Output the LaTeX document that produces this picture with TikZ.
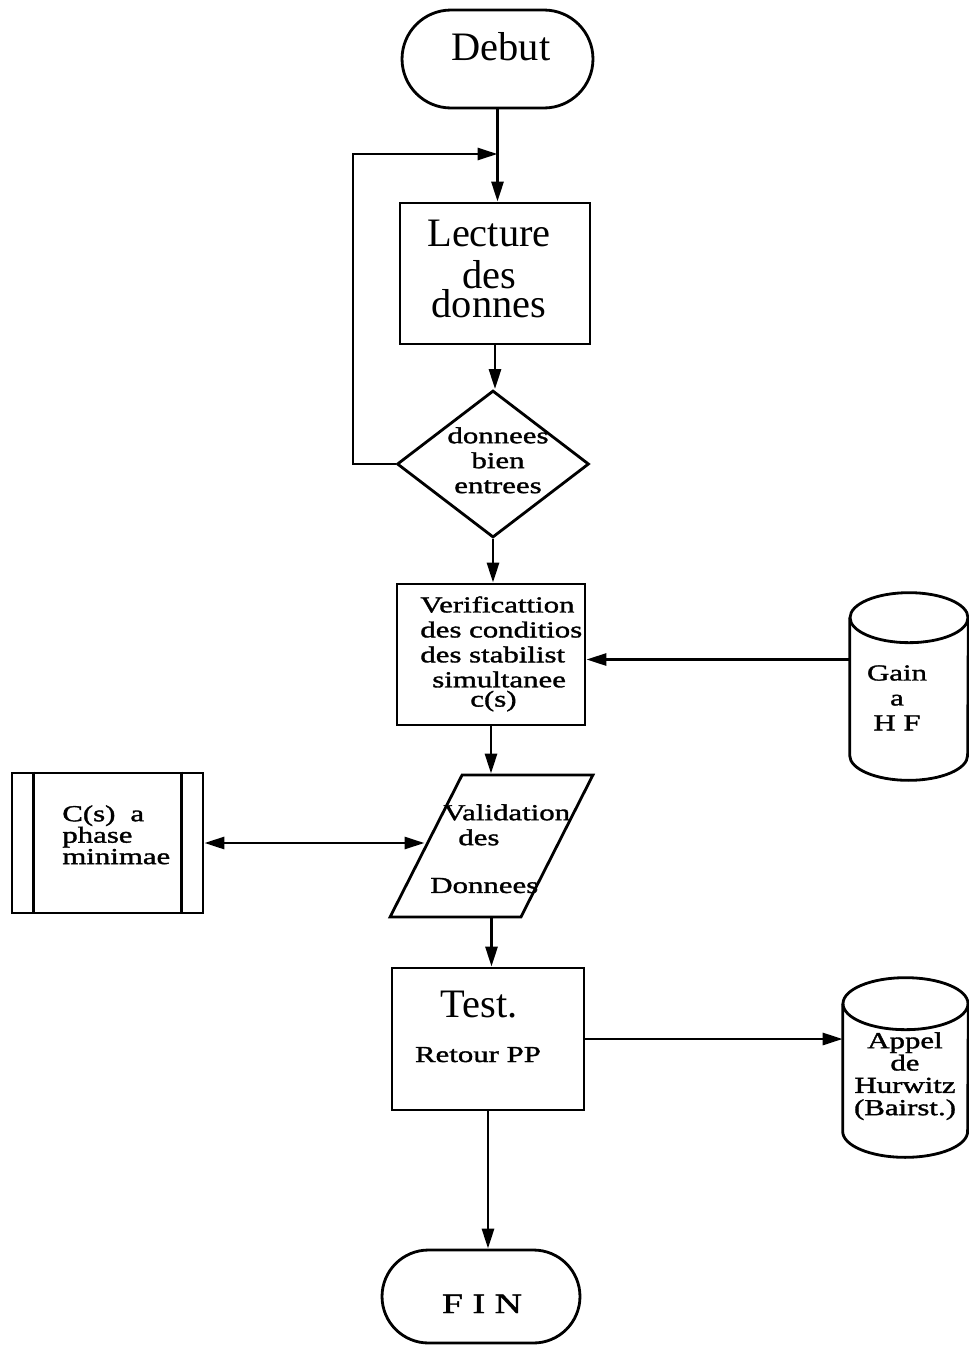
\documentclass[tikz,border=0pt]{standalone}
\usepackage{fontspec}
\setmainfont{Liberation Serif}
\newfontfamily\scanfont{Liberation Serif}[FakeStretch=1.35, FakeBold=1.5]
\usetikzlibrary{arrows.meta,shapes.geometric,shapes.misc}

\tikzset{
  ink/.style={line width=1.6pt},
  arr/.style={ink, -{Triangle[length=0.4cm,width=0.24cm]}},
  dblarr/.style={ink, {Triangle[length=0.4cm,width=0.24cm]}-{Triangle[length=0.4cm,width=0.24cm]}},
  boxnode/.style={draw, ink, rectangle, inner sep=0pt},
  term/.style={draw, ink, rounded rectangle, inner sep=0pt},
  decision/.style={draw, ink, diamond, inner sep=0pt},
  iobox/.style={draw, ink, trapezium, trapezium left angle=73, trapezium right angle=107,
                trapezium stretches=true, inner sep=2pt},
  ghost/.style={rectangle, inner sep=0pt},
  big/.style={font=\fontsize{23}{26}\selectfont, inner sep=0pt},
  small/.style={font=\scanfont\fontsize{13}{14.2}\selectfont, inner sep=0pt},
}

\begin{document}
\begin{tikzpicture}[x=0.02cm, y=-0.02cm]
  \useasboundingbox[fill=white] (0,0) rectangle (969,1346);

  % main column of the flowchart
  \node[term, minimum width=3.82cm, minimum height=1.96cm] (debut) at (497.5,59) {};
  \node[boxnode, minimum width=3.8cm, minimum height=2.82cm] (lecture) at (495,273.5) {};
  \node[decision, minimum width=3.84cm, minimum height=2.94cm] (check) at (493,464) {};
  \node[boxnode, minimum width=3.76cm, minimum height=2.82cm] (verif) at (491,654.5) {};
  \node[iobox, minimum width=4.06cm, minimum height=2.84cm] (valid) at (491.5,846) {\strut};
  \node[boxnode, minimum width=3.84cm, minimum height=2.84cm] (test) at (488,1039) {};
  \node[term, minimum width=3.96cm, minimum height=1.86cm] (fin) at (481,1296.5) {};

  % side block with double side bars
  \node[boxnode, minimum width=3.82cm, minimum height=2.8cm] (phase) at (107.5,843) {};
  \draw[ink] ([xshift=0.46cm]phase.north west) -- ([xshift=0.46cm]phase.south west);
  \draw[ink] ([xshift=-0.46cm]phase.north east) -- ([xshift=-0.46cm]phase.south east);

  % storage cylinders
  \node[ghost, minimum width=2.36cm, minimum height=3.74cm] (gain) at (909,686.5) {};
  \draw[ink] ([yshift=-0.5cm]gain.north west) -- ([yshift=0.5cm]gain.south west)
     arc[start angle=180, end angle=360, x radius=1.18cm, y radius=0.5cm]
     -- ([yshift=-0.5cm]gain.north east);
  \draw[ink] ([yshift=-0.5cm]gain.north) ellipse[x radius=1.18cm, y radius=0.5cm];

  \node[ghost, minimum width=2.5cm, minimum height=3.58cm] (appel) at (905.5,1067.5) {};
  \draw[ink] ([yshift=-0.52cm]appel.north west) -- ([yshift=0.52cm]appel.south west)
     arc[start angle=180, end angle=360, x radius=1.25cm, y radius=0.52cm]
     -- ([yshift=-0.52cm]appel.north east);
  \draw[ink] ([yshift=-0.52cm]appel.north) ellipse[x radius=1.25cm, y radius=0.52cm];

  % texts
  \node[big, anchor=base] (debut-t) at (501,60) {Debut};
  \node[big, anchor=north, align=center] (lecture-t) at (489,220)
    {Lecture\\[-2pt] des\\[-10pt] donnes};
  \node[small, anchor=north, align=center] (check-t) at (498,427)
    {donnees\\ bien\\ entrees};
  \node[small, anchor=north west, align=left] (verif-t) at (420,596)
    {Verificattion\\ des conditios\\ des stabilist\\ \hspace*{0.24cm}simultanee\\[-3.2pt]
     \hspace*{1cm}c(s)};
  \node[small, anchor=north, align=center] (gain-t) at (897,665)
    {Gain\\ a\\ H F};
  \node[small, anchor=north west, align=left] (phase-t) at (62,805)
    {C(s)\hspace{0.3cm}a\\[-2pt] phase\\[-2pt] minimae};
  \node[small, anchor=north west, align=left] (valid-t) at (430,804)
    {\hspace*{0.26cm}Validation\\ \hspace*{0.56cm}des\\[13pt] Donnees};
  \node[big, anchor=base] (test-t) at (479,1017) {Test.};
  \node[small, anchor=base] (retour-t) at (478,1062) {Retour PP};
  \node[small, anchor=north, align=center] (appel-t) at (905,1032)
    {Appel\\[-1.5pt] de\\[-1.5pt] Hurwitz\\[-1.5pt] (Bairst.)};
  \node[small, anchor=base, font=\scanfont\fontsize{16}{18}\selectfont] (fin-t) at (482,1313)
    {F I N};

  % connectors
  \coordinate (loopx) at (353,0);
  \coordinate (join) at (497.5,154);
  \draw[arr] (debut.south) -- (debut.south |- lecture.north);
  \draw[arr] (lecture.south) -- (lecture.south |- check.north);
  \draw[arr] (check.west) -- (check.west -| loopx) |- (join);
  \draw[arr] (check.south) -- (check.south |- verif.north);
  \draw[arr] ([yshift=-0.1cm]verif.east -| gain.west) -- ([yshift=-0.1cm]verif.east);
  \draw[arr] (verif.south) -- (verif.south |- valid.north);
  \draw[dblarr] (phase.east) -- (phase.east -| valid.west);
  \draw[arr] (valid.south) -- (valid.south |- test.north);
  \draw[arr] (test.east) -- (test.east -| appel.west);
  \draw[arr] (test.south) -- (test.south |- fin.north);
\end{tikzpicture}
\end{document}
